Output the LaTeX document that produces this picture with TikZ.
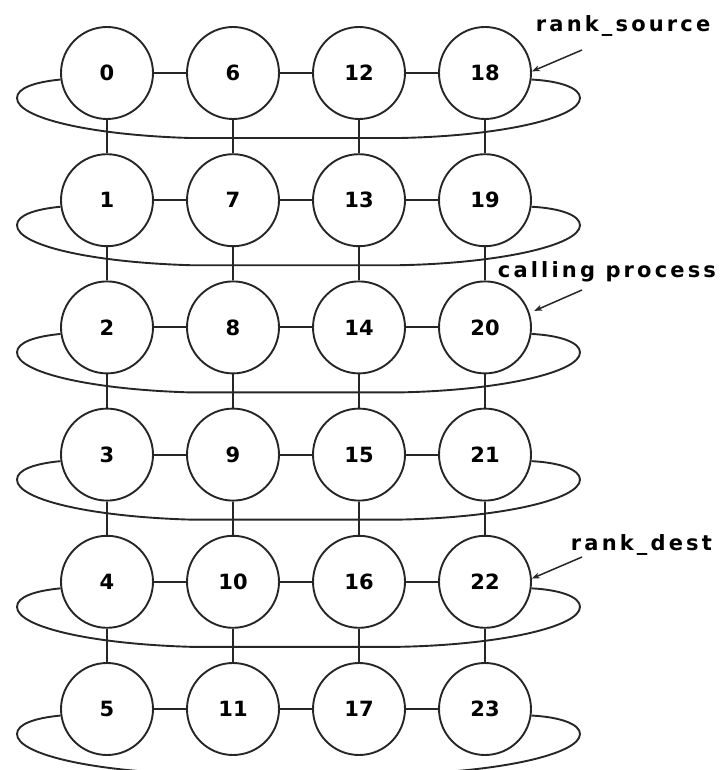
\documentclass[tikz,border=0pt]{standalone}
\usepackage{fontspec}
\setmainfont{DejaVu Sans}
\newfontfamily\lblfont[LetterSpace=15]{DejaVu Sans}
\usetikzlibrary{arrows.meta,backgrounds}
\begin{document}
\begin{tikzpicture}[x=1pt,y=-1pt,line width=1.9pt,draw=black!85,
  proc/.style={circle,draw,fill=white,minimum size=92pt,inner sep=0pt,
    font=\fontsize{21}{21}\selectfont\bfseries},
  lbl/.style={anchor=base west,inner sep=0pt,
    font=\lblfont\fontsize{21}{21}\selectfont\bfseries},
  ring/.style={draw=black!85,line width=1.9pt},
  pointer/.style={-{Stealth[length=8pt,width=6pt]},line width=1.5pt}]
\useasboundingbox (0,0) rectangle (720,770);
% nodes
\foreach \i in {0,...,3}{
  \foreach \j in {0,...,5}{
    \pgfmathtruncatemacro{\n}{6*\i+\j}
    \node[proc] (c-\i-\j) at ({107+126*\i},{73+127.2*\j}) {\n};
  }
}
% horizontal links
\foreach \j in {0,...,5}{
  \draw (c-0-\j) -- (c-1-\j);
  \draw (c-1-\j) -- (c-2-\j);
  \draw (c-2-\j) -- (c-3-\j);
}
% vertical links
\foreach \i in {0,...,3}{
  \foreach \j/\k in {0/1,1/2,2/3,3/4,4/5}{
    \draw (c-\i-\j) -- (c-\i-\k);
  }
}
% rings behind the circles
\begin{scope}[on background layer]
\foreach \j in {0,...,5}{
  \pgfmathsetmacro{\cy}{73+127.2*\j}
  \draw[ring] (c-0-\j.188) .. controls (35,\cy+9) and (17,\cy+15) .. (17,\cy+25)
    .. controls (17,\cy+45) and (90,\cy+62) .. (190,\cy+65) -- (400,\cy+65)
    .. controls (500,\cy+63) and (580,\cy+45) .. (580,\cy+25)
    .. controls (580,\cy+15) and (560,\cy+8) .. (c-3-\j.-8);
}
\end{scope}
% labels
\node[lbl] (ls) at (535,32) {rank\_source};
\node[lbl] (lc) at (497,277) {calling process};
\node[lbl] (ld) at (570,550) {rank\_dest};
\coordinate (as) at (582,50);
\coordinate (ac) at (582,290);
\coordinate (ad) at (582,557);
\draw[pointer] (as) -- (c-3-0.2);
\draw[pointer,shorten >=5pt] (ac) -- (c-3-2.18);
\draw[pointer] (ad) -- (c-3-4.4);
\end{tikzpicture}
\end{document}
